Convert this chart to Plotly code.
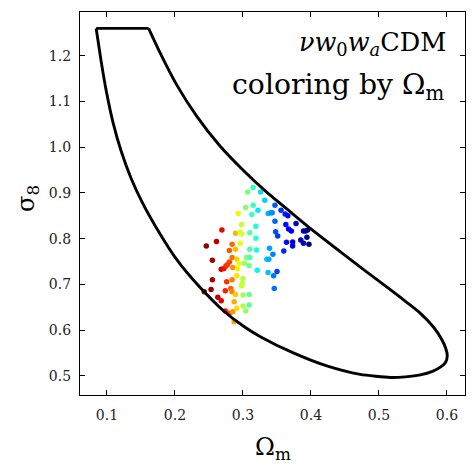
import numpy as np
import plotly.graph_objects as go

# ---- data ----
contour_om = [0.0841, 0.0914, 0.0993, 0.1088, 0.1209, 0.1354, 0.1524, 0.1730, 0.2021, 0.2364,
              0.2708, 0.3003, 0.3249, 0.3740, 0.4233, 0.4724, 0.5167, 0.5388, 0.5609, 0.5786,
              0.5919, 0.5982, 0.6004, 0.5985, 0.5919, 0.5801, 0.5609, 0.5403, 0.5215, 0.4813,
              0.4429, 0.4031, 0.3692, 0.3348, 0.3003, 0.2659, 0.2316, 0.2021, 0.1774, 0.1612]
contour_s8 = [1.2601, 1.1880, 1.1203, 1.0547, 0.9913, 0.9324, 0.8778, 0.8231, 0.7554, 0.6942,
              0.6429, 0.6090, 0.5861, 0.5500, 0.5216, 0.5030, 0.4963, 0.4976, 0.5019, 0.5096,
              0.5205, 0.5303, 0.5434, 0.5587, 0.5806, 0.6068, 0.6367, 0.6614, 0.6833, 0.7281,
              0.7718, 0.8177, 0.8592, 0.9018, 0.9498, 1.0034, 1.0689, 1.1377, 1.2087, 1.2601]
top_om = [0.0841, 0.1612]
top_s8 = [1.2601, 1.2601]

pts_om = [0.315, 0.307, 0.304, 0.315, 0.293, 0.313, 0.298, 0.319, 0.269, 0.289,
          0.296, 0.298, 0.310, 0.319, 0.261, 0.246, 0.284, 0.296, 0.280, 0.289,
          0.310, 0.320, 0.326, 0.332, 0.322, 0.337, 0.341, 0.343, 0.347, 0.356,
          0.362, 0.366, 0.347, 0.378, 0.363, 0.367, 0.371, 0.389, 0.392, 0.395,
          0.348, 0.351, 0.385, 0.394, 0.389, 0.397, 0.364, 0.373, 0.373, 0.339,
          0.360, 0.255, 0.284, 0.280, 0.291, 0.294, 0.302, 0.305, 0.310, 0.309,
          0.321, 0.285, 0.268, 0.272, 0.275, 0.277, 0.292, 0.255, 0.276, 0.284,
          0.291, 0.300, 0.299, 0.298, 0.243, 0.253, 0.274, 0.282, 0.284, 0.289,
          0.300, 0.309, 0.263, 0.268, 0.287, 0.300, 0.309, 0.274, 0.280, 0.285,
          0.291, 0.304, 0.287, 0.344, 0.335, 0.338, 0.337, 0.350, 0.345, 0.346]
pts_s8 = [0.912, 0.902, 0.868, 0.873, 0.855, 0.853, 0.831, 0.827, 0.819, 0.812,
          0.814, 0.810, 0.813, 0.801, 0.794, 0.784, 0.788, 0.790, 0.774, 0.777,
          0.777, 0.775, 0.902, 0.884, 0.862, 0.855, 0.857, 0.857, 0.873, 0.862,
          0.854, 0.850, 0.838, 0.833, 0.831, 0.821, 0.817, 0.817, 0.817, 0.819,
          0.815, 0.806, 0.797, 0.803, 0.790, 0.788, 0.792, 0.793, 0.784, 0.779,
          0.773, 0.753, 0.759, 0.749, 0.755, 0.746, 0.746, 0.759, 0.759, 0.741,
          0.731, 0.737, 0.733, 0.735, 0.740, 0.743, 0.734, 0.710, 0.706, 0.710,
          0.719, 0.713, 0.702, 0.697, 0.684, 0.689, 0.686, 0.691, 0.684, 0.678,
          0.677, 0.678, 0.672, 0.664, 0.662, 0.653, 0.655, 0.642, 0.637, 0.640,
          0.648, 0.642, 0.618, 0.766, 0.755, 0.755, 0.726, 0.728, 0.719, 0.691]

x_ticks = [0.1, 0.2, 0.3, 0.4, 0.5, 0.6]
y_ticks = [0.5, 0.6, 0.7, 0.8, 0.9, 1.0, 1.1, 1.2]
x_range = [0.0603, 0.6265]
y_range = [0.458, 1.296]

# ---- matplotlib 'jet' colormap, reversed ----
_r = [(0, 0), (0.35, 0), (0.66, 1), (0.89, 1), (1, 0.5)]
_g = [(0, 0), (0.125, 0), (0.375, 1), (0.64, 1), (0.91, 0), (1, 0)]
_b = [(0, 0.5), (0.11, 1), (0.34, 1), (0.65, 0), (1, 0)]


def _interp(seg, s):
    xs = [a for a, _ in seg]
    ys = [b for _, b in seg]
    return float(np.interp(s, xs, ys))


def jet(s):
    return "rgb(%d,%d,%d)" % tuple(round(255 * _interp(c, s)) for c in (_r, _g, _b))


stops = np.linspace(0, 1, 41)
jet_r = [[float(p), jet(1 - p)] for p in stops]

om = np.array(pts_om)
rank = np.argsort(np.argsort(om))

serif = "DejaVu Serif"

fig = go.Figure()
fig.add_trace(go.Scatter(x=pts_om, y=pts_s8, mode="markers",
                         marker=dict(size=5.5, color=rank, colorscale=jet_r,
                                     cmin=0, cmax=len(pts_om) - 1, line=dict(width=0)),
                         showlegend=False, hoverinfo="skip"))
fig.add_trace(go.Scatter(x=contour_om, y=contour_s8, mode="lines",
                         line=dict(color="black", width=2.9, shape="spline", smoothing=0.6),
                         showlegend=False, hoverinfo="skip"))
fig.add_trace(go.Scatter(x=top_om, y=top_s8, mode="lines",
                         line=dict(color="black", width=2.9),
                         showlegend=False, hoverinfo="skip"))

axis_common = dict(showgrid=False, zeroline=False, showline=True, linecolor="black",
                   linewidth=1.2, mirror="ticks", ticks="inside", ticklen=5, tickwidth=1,
                   tickcolor="black", tickfont=dict(family=serif, size=14, color="#222"))

fig.update_layout(
    width=475, height=474,
    margin=dict(l=80, r=10, t=12, b=79),
    paper_bgcolor="white", plot_bgcolor="white",
    xaxis=dict(range=x_range, tickvals=x_ticks, ticktext=[f"{v:.1f}" for v in x_ticks],
               ticklabelstandoff=7, **axis_common),
    yaxis=dict(range=y_range, tickvals=y_ticks, ticktext=[f"{v:.1f}" for v in y_ticks],
               ticklabelstandoff=5, **axis_common),
    annotations=[
        dict(xref="paper", yref="paper", x=0.449, y=-0.14, xanchor="left", yanchor="middle",
             showarrow=False, text="Ω<sub>m</sub>",
             font=dict(family=serif, size=24, color="black")),
        dict(xref="paper", yref="paper", x=-0.138, y=0.514, xanchor="center", yanchor="middle",
             showarrow=False, text="σ<sub>8</sub>", textangle=-90,
             font=dict(family=serif, size=24, color="black")),
        dict(xref="paper", yref="paper", x=0.955, y=0.919, xanchor="right", yanchor="middle",
             showarrow=False,
             text="<i>νw</i><sub>0</sub><i>w</i><sub><i>a</i></sub>CDM",
             font=dict(family=serif, size=25.5, color="black")),
        dict(xref="paper", yref="paper", x=0.951, y=0.805, xanchor="right", yanchor="middle",
             showarrow=False,
             text="coloring by Ω<sub>m</sub>",
             font=dict(family=serif, size=28.3, color="black")),
    ],
)

fig.write_html("out.html",
               config={"displayModeBar": False},
               post_script="document.body.style.margin='0px';"
                           "document.body.style.overflow='hidden';")
